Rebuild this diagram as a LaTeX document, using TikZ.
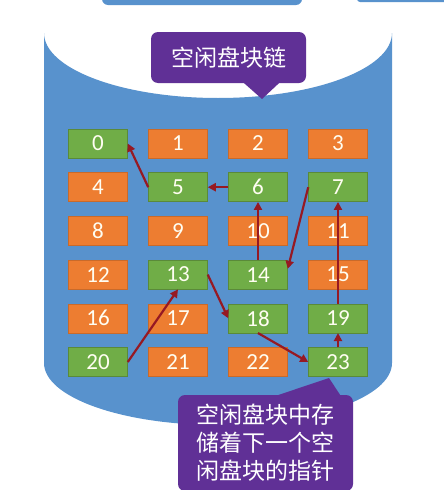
\documentclass[tikz,border=0pt]{standalone}
\usepackage{fontspec}
\setmainfont{Carlito}
\newfontfamily\cjk{Noto Sans CJK SC}
\usepackage{tikz}
\usetikzlibrary{arrows.meta}
\definecolor{diskblue}{RGB}{88,146,205}
\definecolor{freegreen}{RGB}{112,173,71}
\definecolor{usedorange}{RGB}{237,125,49}
\definecolor{tippurple}{RGB}{96,48,150}
\definecolor{linkred}{RGB}{150,25,35}
\tikzset{
	blk/.style={minimum width=59pt,minimum height=29pt,inner sep=0pt,text=white!95!yellow,font=\fontsize{23}{23}\selectfont,line width=0.5pt},
	freeblk/.style={blk,fill=freegreen,draw=freegreen!80!black},
	usedblk/.style={blk,fill=usedorange,draw=usedorange!85!black},
	link/.style={draw=linkred,line width=2.2pt,-{Triangle[length=8pt,width=8pt]}},
	tipbox/.style={fill=tippurple,rounded corners=7pt,text=white,inner sep=0pt,align=center,font=\cjk\fontsize{23}{28}\selectfont}
}

\begin{document}
\begin{tikzpicture}[x=1pt,y=-1pt]
\useasboundingbox (0,0) rectangle (444,490);
\clip (0,0) rectangle (444,490);
\fill[white] (0,0) rectangle (444,490);
% bits of the slide above
\fill[diskblue,rounded corners=6pt] (102,-20) rectangle (302,5);
\fill[diskblue,rounded corners=3pt] (357,-20) rectangle (460,2);
% the disk
\fill[diskblue] (44,33) -- (44,363)
	arc[start angle=180,end angle=0,x radius=174,y radius=62] -- (392,33)
	arc[start angle=0,end angle=180,x radius=174,y radius=65] -- cycle;
% blocks
\foreach \n in {0,5,6,7,13,14,18,19,20,23}{
	\pgfmathtruncatemacro\c{mod(\n,4)}
	\pgfmathtruncatemacro\r{div(\n,4)}
	\node[freeblk] (b\n) at (98+80*\c,143.5+43.7*\r) {\n};
}
\foreach \n in {1,2,3,4,8,9,10,11,12,15,16,17,21,22}{
	\pgfmathtruncatemacro\c{mod(\n,4)}
	\pgfmathtruncatemacro\r{div(\n,4)}
	\node[usedblk] (b\n) at (98+80*\c,143.5+43.7*\r) {\n};
}
% free chain
\draw[link] (b20.east) -- (b13.south);
\draw[link] (b13.east) -- (b18.west);
\draw[link] (b18.south) -- (b23.west);
\draw[link] (b23.north) -- (b19.south);
\draw[link] (b19.north) -- (b7.south);
\draw[link] (b7.west) -- ([yshift=-9pt]b14.north east);
\draw[link] (b14.north) -- (b6.south);
\draw[link] (b6.west) -- (b5.east);
\draw[link] (b5.west) -- (b0.east);
% callouts
\node[tipbox,minimum width=155pt,minimum height=51pt] (title) at (228.5,57.5) {空闲盘块链};
\coordinate (titletip) at (262,99);
\fill[tippurple] ([xshift=14.5pt,yshift=1pt]title.south) -- (titletip) -- ([xshift=51.5pt,yshift=1pt]title.south) -- cycle;
\node[tipbox,minimum width=175pt,minimum height=96pt] (note) at (265.5,443) {空闲盘块中存\\储着下一个空\\闲盘块的指针};
\coordinate (notetip) at (329,378);
\fill[tippurple] ([xshift=4.5pt,yshift=-3pt]note.north) -- (notetip) -- ([xshift=76.5pt,yshift=-3pt]note.north) -- cycle;
\end{tikzpicture}
\end{document}
